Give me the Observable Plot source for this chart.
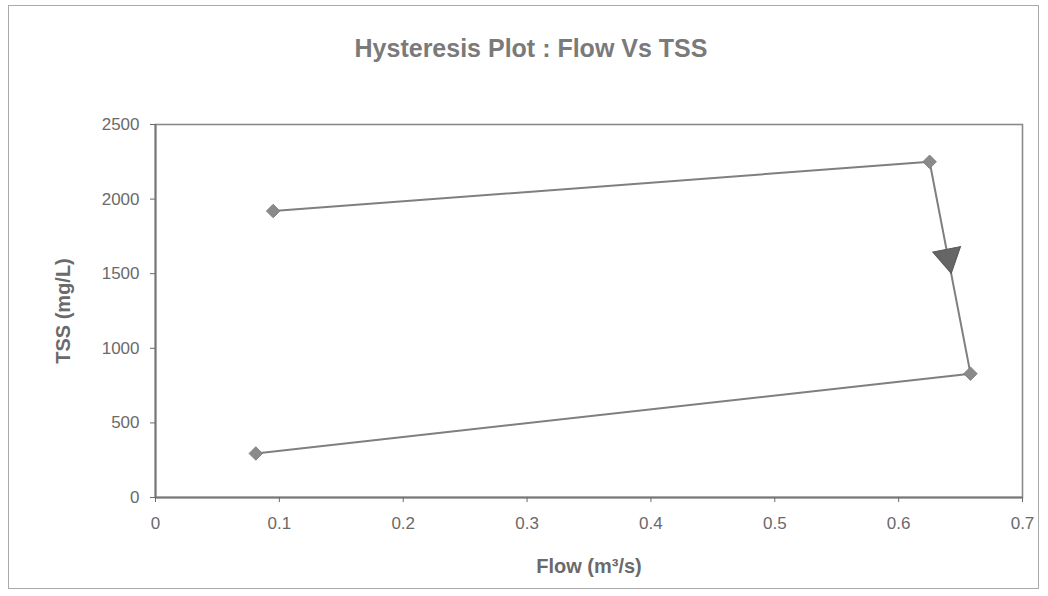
<!DOCTYPE html>
<html>
<head>
<meta charset="utf-8">
<script src="https://cdn.jsdelivr.net/npm/d3@7"></script>
<script src="https://cdn.jsdelivr.net/npm/@observablehq/plot@0.6"></script>
<style>
  html, body { margin: 0; padding: 0; background: #fff; }
  #wrap { position: relative; width: 1048px; height: 596px; overflow: hidden; font-family: "Liberation Sans", Arial, sans-serif; }
  #border { position: absolute; left: 8px; top: 5px; width: 1031px; height: 584px; border: 1px solid #aaa; box-sizing: border-box; }
  #title { position: absolute; left: 0; width: 1062px; top: 34px; text-align: center; font-size: 25px; font-weight: bold; color: #7a7a7a; }
  #chart { position: absolute; left: 0; top: 100px; }
</style>
</head>
<body>
<div id="wrap">
  <div id="border"></div>
  <div id="title">Hysteresis Plot : Flow Vs TSS</div>
  <div id="chart"></div>
</div>
<script>
// Observed sequence (in time order)
const flow = [0.095, 0.625, 0.658, 0.081];   // m3/s
const tss  = [1920, 2250, 830, 295];          // mg/L
// Direction arrow on the falling limb
const arrowFlow = [0.640];
const arrowTss  = [1610];
const xTicks = [0, 0.1, 0.2, 0.3, 0.4, 0.5, 0.6, 0.7];
const yTicks = [0, 500, 1000, 1500, 2000, 2500];

const pts = flow.map((f, i) => ({flow: f, tss: tss[i]}));
const arrow = arrowFlow.map((f, i) => ({flow: f, tss: arrowTss[i]}));

const plot = Plot.plot({
  width: 1048,
  height: 490,
  marginLeft: 155,
  marginRight: 26,
  marginTop: 24,
  marginBottom: 93,
  style: {fontFamily: "'Liberation Sans', Arial, sans-serif", fontSize: "17px", color: "#6a6a6a", background: "transparent"},
  x: {domain: [0, 0.7], ticks: xTicks},
  y: {domain: [0, 2500], ticks: yTicks},
  marks: [
    Plot.frame({stroke: "#8a8a8a", strokeWidth: 1.6}),
    Plot.ruleY([0], {stroke: "#777", strokeWidth: 2}),
    Plot.ruleX([0], {stroke: "#777", strokeWidth: 2}),
    Plot.axisX({ticks: xTicks, tickSize: 5, tickPadding: 14, tickFormat: d => d === 0 ? "0" : String(d),
      fontSize: 17, label: null}),
    Plot.axisX({ticks: [], label: "Flow (m³/s)", labelAnchor: "center", labelArrow: "none", labelOffset: 75,
      fontSize: 20, fontWeight: "bold"}),
    Plot.axisY({ticks: yTicks, tickSize: 5, tickPadding: 11, tickFormat: d3.format("d"),
      fontSize: 17, label: null}),
    Plot.axisY({ticks: [], label: "TSS (mg/L)", labelAnchor: "center", labelArrow: "none", labelOffset: 100,
      fontSize: 20, fontWeight: "bold"}),
    Plot.line(pts, {x: "flow", y: "tss", stroke: "#7f7f7f", strokeWidth: 2}),
    Plot.dot(pts, {x: "flow", y: "tss", symbol: "square", r: 5.4, rotate: 45, fill: "#8a8a8a", stroke: "#7a7a7a", strokeWidth: 0.8}),
    Plot.dot(arrow, {x: "flow", y: "tss", symbol: "triangle", r: 10.5, rotate: 169, fill: "#666", stroke: "#555", strokeWidth: 1})
  ]
});
document.getElementById("chart").appendChild(plot);
</script>
</body>
</html>
